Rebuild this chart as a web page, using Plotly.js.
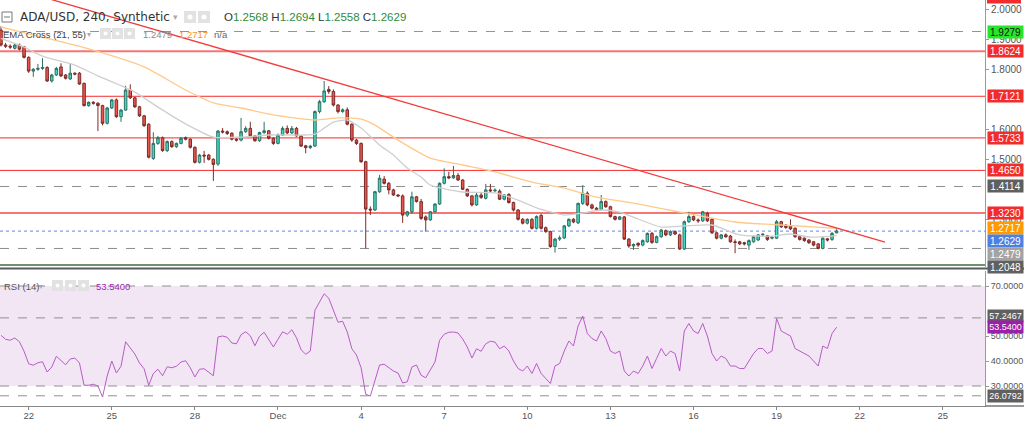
<!DOCTYPE html>
<html><head><meta charset="utf-8">
<script src="https://cdn.plot.ly/plotly-3.0.1.min.js"></script>
<style>html,body{margin:0;padding:0;background:#fff;overflow:hidden}#chart{width:1024px;height:423px}</style>
</head><body><div id="chart"></div>
<script>
// ---- DATA (4h candles, first = 2021-11-21 00:00) ----
const firstCandle = '2021-11-21T00:00:00Z';
const opens = [
1.933,1.883,1.879,1.872,1.883,1.877,1.842,1.796,1.802,1.805,
1.808,1.763,1.783,1.810,1.783,1.770,1.789,1.789,1.755,1.681,
1.692,1.689,1.681,1.622,1.673,1.700,1.644,1.666,1.733,1.707,
1.677,1.647,1.619,1.505,1.555,1.574,1.531,1.561,1.544,1.555,
1.574,1.569,1.542,1.492,1.516,1.516,1.502,1.486,1.596,1.594,
1.589,1.569,1.566,1.594,1.605,1.580,1.564,1.591,1.597,1.572,
1.555,1.583,1.605,1.590,1.605,1.580,1.547,1.541,1.546,1.661,
1.694,1.735,1.728,1.683,1.661,1.667,1.619,1.566,1.555,1.494,
1.336,1.333,1.394,1.436,1.422,1.400,1.383,1.380,1.316,1.327,
1.377,1.361,1.310,1.300,1.327,1.353,1.422,1.444,1.440,1.448,
1.433,1.402,1.380,1.350,1.383,1.372,1.400,1.397,1.396,1.369,
1.385,1.358,1.333,1.302,1.289,1.302,1.272,1.315,1.274,1.261,
1.211,1.236,1.240,1.280,1.302,1.290,1.355,1.389,1.350,1.339,
1.335,1.361,1.344,1.311,1.302,1.310,1.236,1.213,1.222,1.216,
1.227,1.255,1.225,1.244,1.264,1.250,1.261,1.250,1.203,1.294,
1.311,1.300,1.297,1.322,1.302,1.257,1.239,1.250,1.246,1.227,
1.227,1.224,1.216,1.227,1.233,1.250,1.247,1.239,1.239,1.294,
1.283,1.280,1.272,1.244,1.239,1.233,1.227,1.220,1.205,1.237,
1.235,1.2568];
const highs = [
1.945,1.890,1.885,1.888,1.888,1.880,1.845,1.806,1.820,1.839,
1.812,1.787,1.810,1.822,1.786,1.822,1.792,1.793,1.758,1.695,
1.696,1.692,1.684,1.677,1.703,1.705,1.670,1.747,1.752,1.710,
1.680,1.650,1.622,1.592,1.580,1.578,1.565,1.565,1.558,1.576,
1.578,1.572,1.545,1.520,1.530,1.520,1.505,1.600,1.606,1.598,
1.592,1.572,1.640,1.612,1.627,1.583,1.594,1.627,1.600,1.575,
1.588,1.612,1.615,1.613,1.610,1.583,1.550,1.550,1.665,1.700,
1.763,1.746,1.735,1.686,1.672,1.675,1.622,1.570,1.558,1.497,
1.345,1.397,1.450,1.446,1.426,1.404,1.386,1.385,1.330,1.394,
1.380,1.370,1.315,1.330,1.355,1.425,1.472,1.460,1.480,1.456,
1.436,1.405,1.383,1.393,1.392,1.420,1.420,1.405,1.402,1.386,
1.389,1.361,1.336,1.306,1.305,1.306,1.315,1.320,1.278,1.264,
1.240,1.248,1.283,1.305,1.306,1.358,1.416,1.395,1.354,1.343,
1.383,1.365,1.347,1.314,1.313,1.313,1.239,1.222,1.225,1.235,
1.258,1.260,1.248,1.270,1.268,1.265,1.265,1.254,1.298,1.327,
1.315,1.305,1.330,1.327,1.305,1.260,1.253,1.255,1.250,1.235,
1.230,1.227,1.235,1.248,1.253,1.256,1.250,1.246,1.300,1.297,
1.286,1.302,1.275,1.247,1.242,1.236,1.230,1.223,1.242,1.240,
1.260,1.2694];
const lows = [
1.878,1.873,1.870,1.868,1.865,1.838,1.790,1.777,1.797,1.800,
1.760,1.758,1.780,1.776,1.768,1.766,1.782,1.750,1.678,1.677,
1.684,1.596,1.615,1.618,1.670,1.640,1.627,1.663,1.703,1.673,
1.643,1.610,1.505,1.500,1.550,1.527,1.526,1.540,1.540,1.552,
1.565,1.538,1.488,1.488,1.490,1.498,1.430,1.480,1.588,1.583,
1.565,1.561,1.562,1.590,1.577,1.560,1.560,1.587,1.568,1.550,
1.552,1.580,1.585,1.586,1.577,1.543,1.522,1.536,1.543,1.655,
1.690,1.720,1.678,1.655,1.657,1.615,1.560,1.550,1.490,1.205,
1.316,1.330,1.390,1.418,1.385,1.380,1.376,1.290,1.310,1.320,
1.358,1.300,1.261,1.297,1.325,1.350,1.418,1.436,1.437,1.430,
1.400,1.376,1.345,1.347,1.370,1.368,1.393,1.392,1.366,1.365,
1.354,1.328,1.298,1.285,1.285,1.268,1.268,1.268,1.257,1.207,
1.191,1.230,1.236,1.276,1.289,1.286,1.350,1.345,1.335,1.331,
1.332,1.340,1.308,1.298,1.299,1.233,1.207,1.200,1.210,1.212,
1.224,1.220,1.222,1.240,1.246,1.246,1.250,1.200,1.200,1.290,
1.296,1.290,1.293,1.293,1.253,1.235,1.235,1.240,1.224,1.189,
1.216,1.215,1.200,1.224,1.230,1.245,1.230,1.235,1.236,1.273,
1.270,1.266,1.240,1.231,1.227,1.220,1.212,1.202,1.202,1.228,
1.230,1.2558];
const closes = [
1.883,1.879,1.876,1.883,1.869,1.842,1.796,1.802,1.805,1.808,
1.763,1.783,1.805,1.780,1.772,1.789,1.786,1.753,1.681,1.692,
1.689,1.681,1.622,1.673,1.700,1.644,1.666,1.733,1.707,1.677,
1.647,1.614,1.509,1.555,1.574,1.531,1.561,1.544,1.555,1.572,
1.569,1.542,1.492,1.516,1.513,1.502,1.485,1.596,1.593,1.588,
1.569,1.566,1.594,1.605,1.580,1.564,1.591,1.597,1.572,1.555,
1.583,1.605,1.590,1.605,1.580,1.546,1.541,1.546,1.661,1.694,
1.730,1.728,1.683,1.661,1.667,1.619,1.566,1.555,1.494,1.336,
1.333,1.394,1.439,1.422,1.400,1.383,1.380,1.316,1.327,1.377,
1.361,1.305,1.300,1.327,1.353,1.422,1.444,1.440,1.448,1.433,
1.402,1.380,1.350,1.383,1.375,1.400,1.397,1.399,1.369,1.383,
1.358,1.333,1.302,1.289,1.302,1.272,1.311,1.272,1.261,1.211,
1.236,1.240,1.280,1.302,1.293,1.355,1.389,1.350,1.339,1.335,
1.361,1.344,1.311,1.302,1.310,1.236,1.213,1.218,1.216,1.231,
1.255,1.225,1.244,1.266,1.250,1.261,1.253,1.203,1.294,1.311,
1.300,1.297,1.327,1.297,1.257,1.239,1.250,1.244,1.227,1.225,
1.220,1.220,1.231,1.244,1.250,1.252,1.235,1.242,1.294,1.277,
1.275,1.270,1.244,1.235,1.231,1.224,1.216,1.205,1.239,1.233,
1.255,1.2629];
const rsi = [
50.3,48.7,48.3,49.2,47.7,43.9,38.9,38.3,39.3,39.7,
35.6,37.6,41.9,40.0,38.5,40.8,41.2,39.2,30.3,30.3,
30.7,30.0,25.6,34.0,40.0,35.2,37.9,47.7,45.2,42.8,
39.2,36.9,30.3,35.0,36.7,34.1,37.7,37.3,37.9,39.6,
40.1,37.3,33.6,36.7,36.9,35.5,34.1,49.6,50.0,49.5,
47.2,46.9,50.5,51.7,50.1,46.1,49.9,51.5,48.5,45.6,
48.7,51.7,50.7,52.5,49.3,44.5,42.7,44.0,60.3,63.6,
66.9,65.1,59.9,55.5,55.9,51.6,44.9,42.4,37.3,26.7,
26.0,32.3,38.4,38.7,37.3,36.0,35.2,31.2,31.7,37.6,
38.4,34.3,33.3,36.5,39.6,48.3,50.7,51.5,51.6,51.2,
48.8,45.6,41.2,44.9,43.9,46.9,47.9,47.6,44.9,46.0,
44.0,40.0,37.0,36.0,38.0,35.0,39.0,35.0,33.0,31.0,
38.0,39.0,44.0,48.0,46.0,54.0,58.0,51.0,49.0,48.0,
52.0,49.0,44.0,43.0,44.0,36.0,34.0,36.0,35.0,38.0,
42.0,37.0,41.0,45.0,42.0,44.0,43.0,36.0,52.0,55.0,
52.0,51.0,55.0,50.0,43.0,40.0,42.0,41.0,38.0,38.0,
37.0,37.0,40.0,43.0,45.0,45.0,43.0,44.0,57.0,52.0,
51.0,50.0,45.0,44.0,43.0,42.0,40.0,38.0,46.0,45.0,
51.0,53.54];
// EMA lines: candle number (0 = first candle) and value
const ema21Pos = [0,5,9,16,21,29,34,40,46,52,58,66,68,70,72,75,76,78,82,85,88,91,93,100,107,112,116,122,126,130,134,138,143,148,154,160,167,171,175,181];
const ema21Val = [1.905,1.876,1.846,1.816,1.780,1.726,1.676,1.620,1.576,1.576,1.583,1.583,1.586,1.606,1.626,1.633,1.626,1.606,1.550,1.516,1.473,1.443,1.416,1.393,1.390,1.366,1.340,1.316,1.323,1.333,1.326,1.303,1.276,1.280,1.283,1.250,1.246,1.253,1.243,1.2479];
const ema55Pos = [0,7,19,31,40,46,52,59,68,73,78,81,86,93,100,107,115,122,129,137,148,159,169,181];
const ema55Val = [1.943,1.916,1.870,1.810,1.733,1.690,1.673,1.650,1.633,1.640,1.636,1.616,1.566,1.506,1.483,1.460,1.426,1.406,1.376,1.356,1.323,1.293,1.283,1.2717];
// trend line (drawing): candle number and price of its two ends
const trendPos = [0, 191.47];
const trendVal = [2.0835, 1.2263];
// horizontal levels on the price pane
const redLevels = [1.8624, 1.7121, 1.5733, 1.4650, 1.3230];
const dashedLevels = [1.4114, 1.2048];
const greenLevel = 1.9279;
const bottomLevel = 1.1497;
const lastPrice = 1.2629;
const ema21Last = 1.2479, ema55Last = 1.2717;
const rsiLast = 53.54, rsiLevels = [70, 30], rsiMarks = [57.2467, 26.0792];
const priceTicks = [2.0, 1.9, 1.8, 1.6, 1.5, 1.3];
const rsiTicks = [30, 40, 50, 70];
const tickDates = ['2021-11-22','2021-11-25','2021-11-28','2021-12-01','2021-12-04','2021-12-07','2021-12-10','2021-12-13','2021-12-16','2021-12-19','2021-12-22','2021-12-25'];
const tickText = ['22','25','28','Dec','4','7','10','13','16','19','22','25'];

// ---- helpers ----
const T0 = Date.parse(firstCandle), STEP = 4*3600e3;
function t(i){ return new Date(T0 + i*STEP).toISOString().replace('T',' ').slice(0,19); }
const times = opens.map((_, i) => t(i));
const W = 985, H = 406;
const px = v => v / W, py = v => 1 - v / H;

const traces = [
  {type:'scatter', mode:'lines', x: ema55Pos.map(t), y: ema55Val, line:{color:'#ffc98a', width:1.3, shape:'spline', smoothing:0.6}, xaxis:'x', yaxis:'y', hoverinfo:'skip'},
  {type:'scatter', mode:'lines', x: ema21Pos.map(t), y: ema21Val, line:{color:'#cfcfcf', width:1.3, shape:'spline', smoothing:0.6}, xaxis:'x', yaxis:'y', hoverinfo:'skip'},
  {type:'candlestick', x: times, open: opens, high: highs, low: lows, close: closes, xaxis:'x', yaxis:'y',
    increasing:{line:{color:'#2f6f63', width:1}, fillcolor:'#3fd9c5'},
    decreasing:{line:{color:'#7d2a26', width:1}, fillcolor:'#e8584f'},
    whiskerwidth:0, hoverinfo:'skip'},
  {type:'scatter', mode:'lines', x: trendPos.map(t), y: trendVal, line:{color:'#f23b3b', width:1.3}, xaxis:'x', yaxis:'y', hoverinfo:'skip'},
  {type:'scatter', mode:'lines', x: times, y: rsi, line:{color:'#b65dc6', width:1}, xaxis:'x', yaxis:'y2', hoverinfo:'skip'}
];

const shapes = [];
shapes.push({type:'rect', xref:'paper', yref:'y2', x0:0, x1:1, y0:30, y1:70, fillcolor:'#f3e6f4', line:{width:0}, layer:'below'});
redLevels.forEach(v => {
  const soft = (v === 1.8624 || v === 1.3230);
  shapes.push({type:'line', xref:'paper', yref:'y', x0:0, x1:1, y0:v, y1:v, line:{color: soft ? 'rgba(242,60,60,0.7)' : '#f22b2b', width: soft ? 2 : 1}, layer:'below'});
});
dashedLevels.forEach(v => shapes.push({type:'line', xref:'paper', yref:'y', x0:0, x1:1, y0:v, y1:v, line:{color:'#8c8c8c', width:1, dash:'dash'}, layer:'below'}));
shapes.push({type:'line', xref:'paper', yref:'y', x0:0, x1:1, y0:greenLevel, y1:greenLevel, line:{color:'#3ad13a', width:1, dash:'dash'}, layer:'below'});
shapes.push({type:'line', xref:'paper', yref:'y', x0:0, x1:1, y0:bottomLevel, y1:bottomLevel, line:{color:'#3c6e3c', width:1.5}, layer:'below'});
shapes.push({type:'line', xref:'paper', yref:'y', x0:0, x1:1, y0:lastPrice, y1:lastPrice, line:{color:'#7f9ff0', width:1.2, dash:'dot'}, layer:'below'});
rsiLevels.concat(rsiMarks).forEach(v => shapes.push({type:'line', xref:'paper', yref:'y2', x0:0, x1:1, y0:v, y1:v, line:{color:'#8f8f8f', width:1, dash:'dash'}, layer:'below'}));
shapes.push({type:'line', xref:'paper', yref:'paper', x0:0, x1:1024/W, y0:py(268.5), y1:py(268.5), line:{color:'#5a5a5a', width:2}});
shapes.push({type:'line', xref:'paper', yref:'paper', x0:1, x1:1024/W, y0:py(406), y1:py(406), line:{color:'#777', width:1.5}});
shapes.push({type:'rect', xref:'paper', yref:'paper', x0:px(987), x1:px(1021), y0:py(0), y1:py(3.5), fillcolor:'#f22b2b', line:{width:0}});
function box(x0, y0, x1, y1){ shapes.push({type:'rect', xref:'paper', yref:'paper', x0:px(x0), x1:px(x1), y0:py(y0), y1:py(y1), fillcolor:'#e2e2e2', line:{width:0}}); shapes.push({type:'circle', xref:'paper', yref:'paper', x0:px(x0+3.5), x1:px(x1-3.5), y0:py(y0+3.5), y1:py(y1-3.5), fillcolor:'#ffffff', line:{width:0}}); }
box(184,11,196,23); box(198,11,210,23);
box(100,28,111,39); box(112,28,123,39); box(124,28,135,39);
box(52,280,63,291); box(65,280,76,291); box(78,280,89,291);
shapes.push({type:'rect', xref:'paper', yref:'paper', x0:px(2), x1:px(12), y0:py(12), y1:py(22), line:{color:'#777', width:1}, fillcolor:'rgba(0,0,0,0)'});
shapes.push({type:'line', xref:'paper', yref:'paper', x0:px(4), x1:px(10), y0:py(17), y1:py(17), line:{color:'#777', width:1}});

const ann = [];
function txt(x, y, text, size, color, fam){ ann.push({xref:'paper', yref:'paper', x:px(x), y:py(y), xanchor:'left', yanchor:'middle', text, showarrow:false, font:{size, color, family: fam || 'Liberation Sans, Arial, sans-serif'}}); }
txt(18, 17, 'ADA/USD, 240, Synthetic', 12, '#333', 'DejaVu Sans, sans-serif');
txt(171, 17, '▾', 9, '#aaa');
const g = s => '<span style="color:#2e8b3e">' + s + '</span>';
txt(222, 17, 'O' + g(opens[opens.length-1].toFixed(4)) + ' H' + g(highs[highs.length-1].toFixed(4)) + ' L' + g(lows[lows.length-1].toFixed(4)) + ' C' + g(closes[closes.length-1].toFixed(4)), 11.5, '#333');
txt(1, 34, 'EMA Cross (21, 55)', 9.5, '#444');
txt(85, 34, '▾', 8, '#aaa');
txt(141, 34, ema21Last.toFixed(4), 9.5, '#8a8a8a');
txt(177, 34, ema55Last.toFixed(4), 9.5, '#f7941d');
txt(212, 34, 'n/a', 9.5, '#666');
txt(2, 286, 'RSI (14)', 9.5, '#555');
txt(37, 286, '▾', 8, '#aaa');
txt(94, 286, rsiLast.toFixed(4), 9.5, '#9c27b0');

function label(v, yref, bg, fg, shift, size){ ann.push({xref:'paper', x:1, xanchor:'left', xshift:1.5, yref, y:v, yanchor:'middle', yshift: shift || 0, text: v.toFixed(4), showarrow:false, bgcolor:bg, borderpad:1, width:33, height:10, font:{size:size || 10, color:fg, family:'Liberation Sans, Arial, sans-serif'}}); }
label(greenLevel, 'y', '#27e627', '#111');
label(1.8624, 'y', '#f22b2b', '#fff');
label(1.7121, 'y', '#f22b2b', '#fff');
label(1.5733, 'y', '#f22b2b', '#fff');
label(1.4650, 'y', '#f22b2b', '#fff');
label(1.4114, 'y', '#5f5f5f', '#fff');
label(1.3230, 'y', '#f22b2b', '#fff');
label(ema55Last, 'y', '#ff9a00', '#fff');
label(lastPrice, 'y', '#4f7fe0', '#fff', -10);
label(ema21Last, 'y', '#a3a3a3', '#fff', -18.5);
label(1.2048, 'y', '#606060', '#fff', -18.5);
label(rsiMarks[0], 'y2', '#606060', '#fff', 1.5, 9);
label(rsiLast, 'y2', '#9c1fa8', '#fff', 0, 9);
label(rsiMarks[1], 'y2', '#606060', '#fff', 0, 9);

const axisFont = {size:10, color:'#555', family:'Liberation Sans, Arial, sans-serif'};
const layout = {
  width:1024, height:423, margin:{l:0, r:39, t:0, b:17},
  paper_bgcolor:'#fff', plot_bgcolor:'#fff', showlegend:false, hovermode:false,
  boxgap:0.22,
  xaxis:{type:'date', anchor:'y2', range:[t(-0.21), t(213.13)], tickvals:tickDates, ticktext:tickText,
    showgrid:false, zeroline:false, showline:true, linecolor:'#888', ticks:'outside', ticklen:3, tickcolor:'#888',
    ticklabelstandoff:-2, tickfont:{size:9.5, color:'#555', family:'Liberation Sans, Arial, sans-serif'},
    rangeslider:{visible:false}, fixedrange:true},
  yaxis:{domain:[py(267), 1], range:[1.143, 2.033], side:'right', anchor:'x', showgrid:false, zeroline:false,
    showline:true, linecolor:'#9a9a9a', ticks:'outside', ticklen:3, tickcolor:'#9a9a9a', tickvals:priceTicks,
    tickformat:'.4f', tickfont:axisFont, fixedrange:true},
  yaxis2:{domain:[0, py(271)], range:[22, 76], side:'right', anchor:'x', showgrid:false, zeroline:false,
    showline:true, linecolor:'#9a9a9a', ticks:'outside', ticklen:3, tickcolor:'#9a9a9a', tickvals:rsiTicks,
    tickformat:'.4f', tickfont:{size:9, color:'#555', family:'Liberation Sans, Arial, sans-serif'}, fixedrange:true},
  shapes, annotations: ann
};
Plotly.newPlot('chart', traces, layout, {displayModeBar:false, staticPlot:true});
</script></body></html>
